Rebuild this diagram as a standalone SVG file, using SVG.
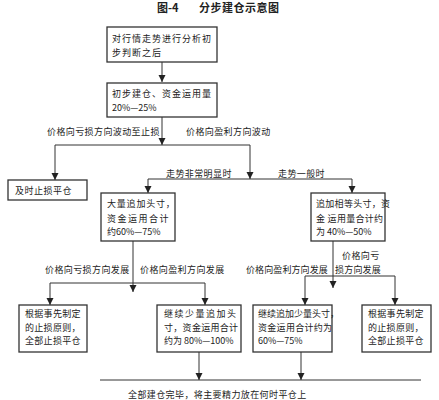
<svg xmlns="http://www.w3.org/2000/svg" width="439" height="400" viewBox="0 0 439 400">
<style>
text{font-family:"Noto Sans CJK SC","Noto Sans",sans-serif;fill:#222;font-size:9px;}
.t{font-weight:bold;font-size:11px;}
.b{fill:#fff;stroke:#333;stroke-width:1.3;}
.c path{fill:none;stroke:#333;stroke-width:1;}
.l{letter-spacing:0.4px;}
</style>
<defs>
<marker id="a" markerUnits="userSpaceOnUse" markerWidth="7" markerHeight="8" refX="7" refY="3.5" orient="auto">
<path d="M0,0 L7,3.5 L0,7 z" fill="#222"/>
</marker>
</defs>
<rect width="439" height="400" fill="#fff"/>
<text class="t" x="157" y="12">图-4</text>
<text class="t" x="199" y="12" letter-spacing="0.5">分步建仓示意图</text>

<g class="c">
<path d="M162 62V82" marker-end="url(#a)"/>
<path d="M162 117V145" marker-end="url(#a)"/>
<path d="M55 145H250"/>
<path d="M55 145V180" marker-end="url(#a)"/>
<path d="M250 145V179" marker-end="url(#a)"/>
<path d="M148 179H352"/>
<path d="M148 179V193" marker-end="url(#a)"/>
<path d="M352 179V193" marker-end="url(#a)"/>
<path d="M133 241V292" marker-end="url(#a)"/>
<path d="M50 283H205"/>
<path d="M50 283V305" marker-end="url(#a)"/>
<path d="M205 283V305" marker-end="url(#a)"/>
<path d="M333 241V288" marker-end="url(#a)"/>
<path d="M305 276H395"/>
<path d="M305 276V305" marker-end="url(#a)"/>
<path d="M395 276V305" marker-end="url(#a)"/>
<path d="M199 352V380" marker-end="url(#a)"/>
<path d="M301 352V380" marker-end="url(#a)"/>
<path d="M100 380H421"/>
</g>

<g id="labels">
<text class="l" x="47" y="135">价格向亏损方向波动至止损</text>
<text class="l" x="186" y="135">价格向盈利方向波动</text>
<text class="l" x="166" y="177">走势非常明显时</text>
<text class="l" x="278" y="177">走势一般时</text>
<text class="l" x="45" y="273">价格向亏损方向发展</text>
<text class="l" x="140" y="273">价格向盈利方向发展</text>
<text class="l" x="342" y="259">价格向亏</text>
<text x="335" y="273" letter-spacing="0.2">损方向发展</text>
<text x="246" y="273" letter-spacing="0.1">价格向盈利方向发展</text>
<text class="l" x="128" y="398">全部建仓完毕，将主要精力放在何时平仓上</text>
</g>

<g id="n1">
<rect class="b" x="107" y="27" width="110" height="35"/>
<text x="112" y="42" letter-spacing="1">对行情走势进行分析初</text>
<text x="112" y="56" letter-spacing="1">步判断之后</text>
</g>
<g id="n2">
<rect class="b" x="107" y="83" width="110" height="34"/>
<text x="112" y="97" letter-spacing="1">初步建仓、资金运用量</text>
<text x="112" y="111">20%—25%</text>
</g>
<g id="n3">
<rect class="b" x="8" y="180" width="79" height="20"/>
<text x="15" y="194" letter-spacing="0.5">及时止损平仓</text>
</g>
<g id="n4">
<rect class="b" x="101" y="193" width="74" height="48"/>
<text x="107" y="207" letter-spacing="0.8">大量追加头寸，</text>
<text x="107" y="222" letter-spacing="1.5">资金运用合计</text>
<text x="107" y="235">约60%—75%</text>
</g>
<g id="n5">
<rect class="b" x="311" y="193" width="74" height="48"/>
<text x="316" y="207" letter-spacing="0.3">追加相等头寸，资</text>
<text x="316" y="222" letter-spacing="0.3">金 运用量合计约</text>
<text x="316" y="235">为 40%—50%</text>
</g>
<g id="n6">
<rect class="b" x="19" y="305" width="68" height="47"/>
<text x="25" y="317" letter-spacing="0.3">根据事先制定</text>
<text x="25" y="331" letter-spacing="0.3">的止损原则，</text>
<text x="25" y="344" letter-spacing="0.3">全部止损平仓</text>
</g>
<g id="n7">
<rect class="b" x="157" y="305" width="84" height="47"/>
<text x="164" y="317" letter-spacing="1.5">继续少量追加头</text>
<text x="164" y="331" letter-spacing="0.3">寸，资金运用合计</text>
<text x="164" y="344">约为 80%—100%</text>
</g>
<g id="n8">
<rect class="b" x="253" y="305" width="79" height="47"/>
<text x="258" y="317">继续追加少量头寸，</text>
<text x="258" y="331" letter-spacing="0.3">资金运用合计约为</text>
<text x="258" y="344">60%—75%</text>
</g>
<g id="n9">
<rect class="b" x="362" y="305" width="69" height="47"/>
<text x="368" y="317" letter-spacing="0.3">根据事先制定</text>
<text x="368" y="331" letter-spacing="0.3">的止损原则，</text>
<text x="368" y="344" letter-spacing="0.3">全部止损平仓</text>
</g>
</svg>
